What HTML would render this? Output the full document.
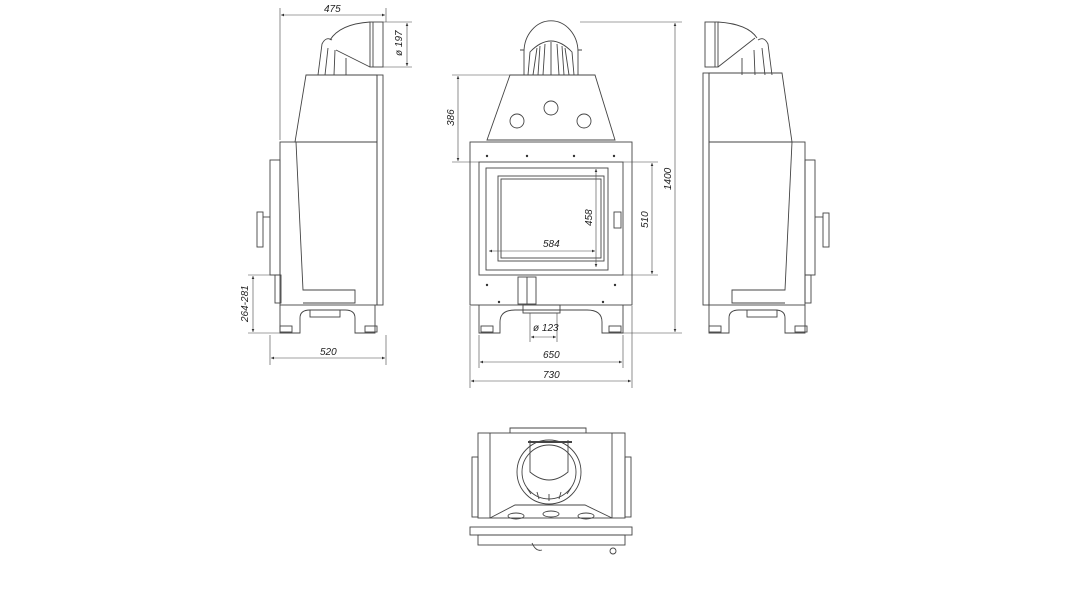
<!DOCTYPE html>
<html><head><style>html,body{margin:0;padding:0;background:#fff}svg{display:block}text{font-family:"Liberation Sans",sans-serif;font-size:10px;font-style:italic;fill:#222}</style></head><body>
<svg width="1067" height="600" viewBox="0 0 1067 600" xmlns="http://www.w3.org/2000/svg">
<defs><marker id="a" markerWidth="6" markerHeight="6" refX="5" refY="3" orient="auto-start-reverse"><path d="M0,0.8L5,3L0,5.2Z" fill="#333"/></marker></defs>
<g fill="none" stroke="#444" stroke-width="0.9">
<!-- FRONT VIEW -->
<path d="M524,75 L524,52 A26,30 0 0 1 578,52 L578,75"/>
<path d="M528,75 L530,52 Q551,30 572,52 L574,75"/>
<path d="M533,75 L537,48 M538,75 L540,46 M543,75 L545,44 M551,75 L551,42 M559,75 L557,44 M564,75 L562,46 M569,75 L565,48"/>
<path d="M520,50 L524,50 M578,50 L582,50"/>
<path d="M510,75 L595,75 L615,140 L487,140 Z"/>
<circle cx="551" cy="108" r="7"/><circle cx="517" cy="121" r="7"/><circle cx="584" cy="121" r="7"/>
<rect x="470" y="142" width="162" height="163"/>
<rect x="479" y="162" width="144" height="113"/>
<rect x="486" y="168" width="122" height="102"/>
<rect x="498" y="176" width="106" height="85"/><rect x="501" y="179" width="100" height="79"/>
<rect x="614" y="212" width="7" height="16"/>
<rect x="518" y="277" width="18" height="27"/><line x1="527" y1="277" x2="527" y2="304"/>
<path d="M479,305 L479,333 L500,333 L500,322 Q500,310 515,310 L587,310 Q602,310 602,322 L602,333 L623,333 L623,305"/>
<rect x="523" y="305" width="37" height="8"/>
<rect x="481" y="326" width="12" height="6"/><rect x="609" y="326" width="12" height="6"/>
<g fill="#333" stroke="none"><circle cx="487" cy="156" r="1.2"/><circle cx="527" cy="156" r="1.2"/><circle cx="574" cy="156" r="1.2"/><circle cx="614" cy="156" r="1.2"/><circle cx="487" cy="285" r="1.2"/><circle cx="615" cy="285" r="1.2"/><circle cx="499" cy="302" r="1.2"/><circle cx="603" cy="302" r="1.2"/></g>
<!-- LEFT VIEW -->
<rect x="370" y="22" width="13" height="45"/><line x1="373" y1="22" x2="373" y2="67"/>
<path d="M370,22 Q340,24 330,40 M370,67 L336,50"/>
<path d="M318,75 L322,44 Q326,36 332,40 M325,75 L328,48 M334,75 L335,50 M346,75 L346,58"/>
<path d="M306,75 L377,75 L377,142 L295,142 Z"/>
<rect x="377" y="75" width="6" height="230"/>
<rect x="280" y="142" width="97" height="163"/>
<path d="M296,142 L303,290 L355,290 L355,303 L303,303"/>
<rect x="270" y="160" width="10" height="115"/>
<rect x="257" y="212" width="6" height="35"/><line x1="263" y1="217" x2="270" y2="217"/>
<rect x="275" y="275" width="6" height="28"/>
<path d="M280,305 L280,333 L300,333 L300,318 Q300,310 310,310 L345,310 Q355,310 355,318 L355,333 L375,333 L375,305"/>
<rect x="310" y="310" width="30" height="7"/>
<rect x="280" y="326" width="12" height="6"/><rect x="365" y="326" width="12" height="6"/>
<!-- RIGHT VIEW -->
<rect x="705" y="22" width="13" height="45"/><line x1="715" y1="22" x2="715" y2="67"/>
<path d="M718,22 Q748,24 757,38 M718,67 L755,38"/>
<path d="M772,75 L768,44 Q764,36 758,40 M765,75 L762,48 M755,75 L754,50 M742,75 L742,58"/>
<path d="M709,73 L782,73 L792,142 L709,142 Z"/>
<rect x="703" y="73" width="6" height="232"/>
<rect x="709" y="142" width="96" height="163"/>
<path d="M792,142 L785,290 L732,290 L732,303 L785,303"/>
<rect x="805" y="160" width="10" height="115"/>
<rect x="823" y="213" width="6" height="34"/><line x1="815" y1="217" x2="823" y2="217"/>
<rect x="805" y="275" width="6" height="28"/>
<path d="M709,305 L709,333 L729,333 L729,318 Q729,310 739,310 L775,310 Q785,310 785,318 L785,333 L805,333 L805,305"/>
<rect x="747" y="310" width="30" height="7"/>
<rect x="709" y="326" width="12" height="6"/><rect x="795" y="326" width="12" height="6"/>
<!-- BOTTOM VIEW -->
<rect x="478" y="433" width="147" height="85"/>
<line x1="490" y1="433" x2="490" y2="518"/><line x1="612" y1="433" x2="612" y2="518"/>
<rect x="472" y="457" width="6" height="60"/><rect x="625" y="457" width="6" height="60"/>
<path d="M510,433 L510,428 L586,428 L586,433"/>
<path d="M490,518 L515,505 L585,505 L612,518"/>
<circle cx="549" cy="472" r="32"/><circle cx="549" cy="472" r="27"/>
<path d="M530,440 L530,472 Q549,488 568,472 L568,440"/><line x1="528" y1="442" x2="572" y2="442" stroke-width="2"/>
<path d="M527,488 L531,494 M537,492 L539,499 M549,494 L549,501 M561,492 L559,499 M571,488 L567,494"/>
<ellipse cx="516" cy="516" rx="8" ry="3"/><ellipse cx="551" cy="514" rx="8" ry="3"/><ellipse cx="586" cy="516" rx="8" ry="3"/>
<rect x="470" y="527" width="162" height="8"/>
<rect x="478" y="535" width="147" height="10"/>
<path d="M532,543 Q536,552 542,550"/><circle cx="613" cy="551" r="3"/>
</g>
<!-- DIMENSIONS -->
<g stroke="#444" stroke-width="0.6" fill="none">
<line x1="280" y1="8" x2="280" y2="140"/><line x1="386" y1="8" x2="386" y2="22"/>
<line x1="281" y1="15" x2="385" y2="15" marker-start="url(#a)" marker-end="url(#a)"/>
<line x1="383" y1="22" x2="412" y2="22"/><line x1="383" y1="67" x2="412" y2="67"/>
<line x1="407" y1="23" x2="407" y2="66" marker-start="url(#a)" marker-end="url(#a)"/>
<line x1="248" y1="275" x2="275" y2="275"/><line x1="248" y1="333" x2="280" y2="333"/>
<line x1="253" y1="276" x2="253" y2="332" marker-start="url(#a)" marker-end="url(#a)"/>
<line x1="270" y1="335" x2="270" y2="365"/><line x1="386" y1="335" x2="386" y2="365"/>
<line x1="271" y1="358" x2="385" y2="358" marker-start="url(#a)" marker-end="url(#a)"/>
<line x1="452" y1="75" x2="510" y2="75"/><line x1="452" y1="162" x2="479" y2="162"/>
<line x1="458" y1="76" x2="458" y2="161" marker-start="url(#a)" marker-end="url(#a)"/>
<line x1="580" y1="22" x2="682" y2="22"/><line x1="623" y1="333" x2="682" y2="333"/>
<line x1="675" y1="23" x2="675" y2="332" marker-start="url(#a)" marker-end="url(#a)"/>
<line x1="623" y1="162" x2="658" y2="162"/><line x1="623" y1="275" x2="658" y2="275"/>
<line x1="652" y1="163" x2="652" y2="274" marker-start="url(#a)" marker-end="url(#a)"/>
<line x1="596" y1="169" x2="596" y2="267" marker-start="url(#a)" marker-end="url(#a)"/>
<line x1="489" y1="251" x2="595" y2="251" marker-start="url(#a)" marker-end="url(#a)"/>
<line x1="530" y1="313" x2="530" y2="342"/><line x1="557" y1="313" x2="557" y2="342"/>
<line x1="531" y1="337" x2="556" y2="337" marker-start="url(#a)" marker-end="url(#a)"/>
<line x1="479" y1="335" x2="479" y2="368"/><line x1="623" y1="335" x2="623" y2="368"/>
<line x1="480" y1="362" x2="622" y2="362" marker-start="url(#a)" marker-end="url(#a)"/>
<line x1="470" y1="306" x2="470" y2="388"/><line x1="632" y1="306" x2="632" y2="388"/>
<line x1="471" y1="381" x2="631" y2="381" marker-start="url(#a)" marker-end="url(#a)"/>
</g>
<text x="324" y="12">475</text>
<text x="0" y="0" transform="translate(402,56) rotate(-90)">ø 197</text>
<text x="0" y="0" transform="translate(248,322) rotate(-90)">264-281</text>
<text x="320" y="355">520</text>
<text x="0" y="0" transform="translate(454,126) rotate(-90)">386</text>
<text x="0" y="0" transform="translate(671,190) rotate(-90)">1400</text>
<text x="0" y="0" transform="translate(648,228) rotate(-90)">510</text>
<text x="0" y="0" transform="translate(592,226) rotate(-90)">458</text>
<text x="543" y="247">584</text>
<text x="533" y="331">ø 123</text>
<text x="543" y="358">650</text>
<text x="543" y="378">730</text>
</svg>
</body></html>
